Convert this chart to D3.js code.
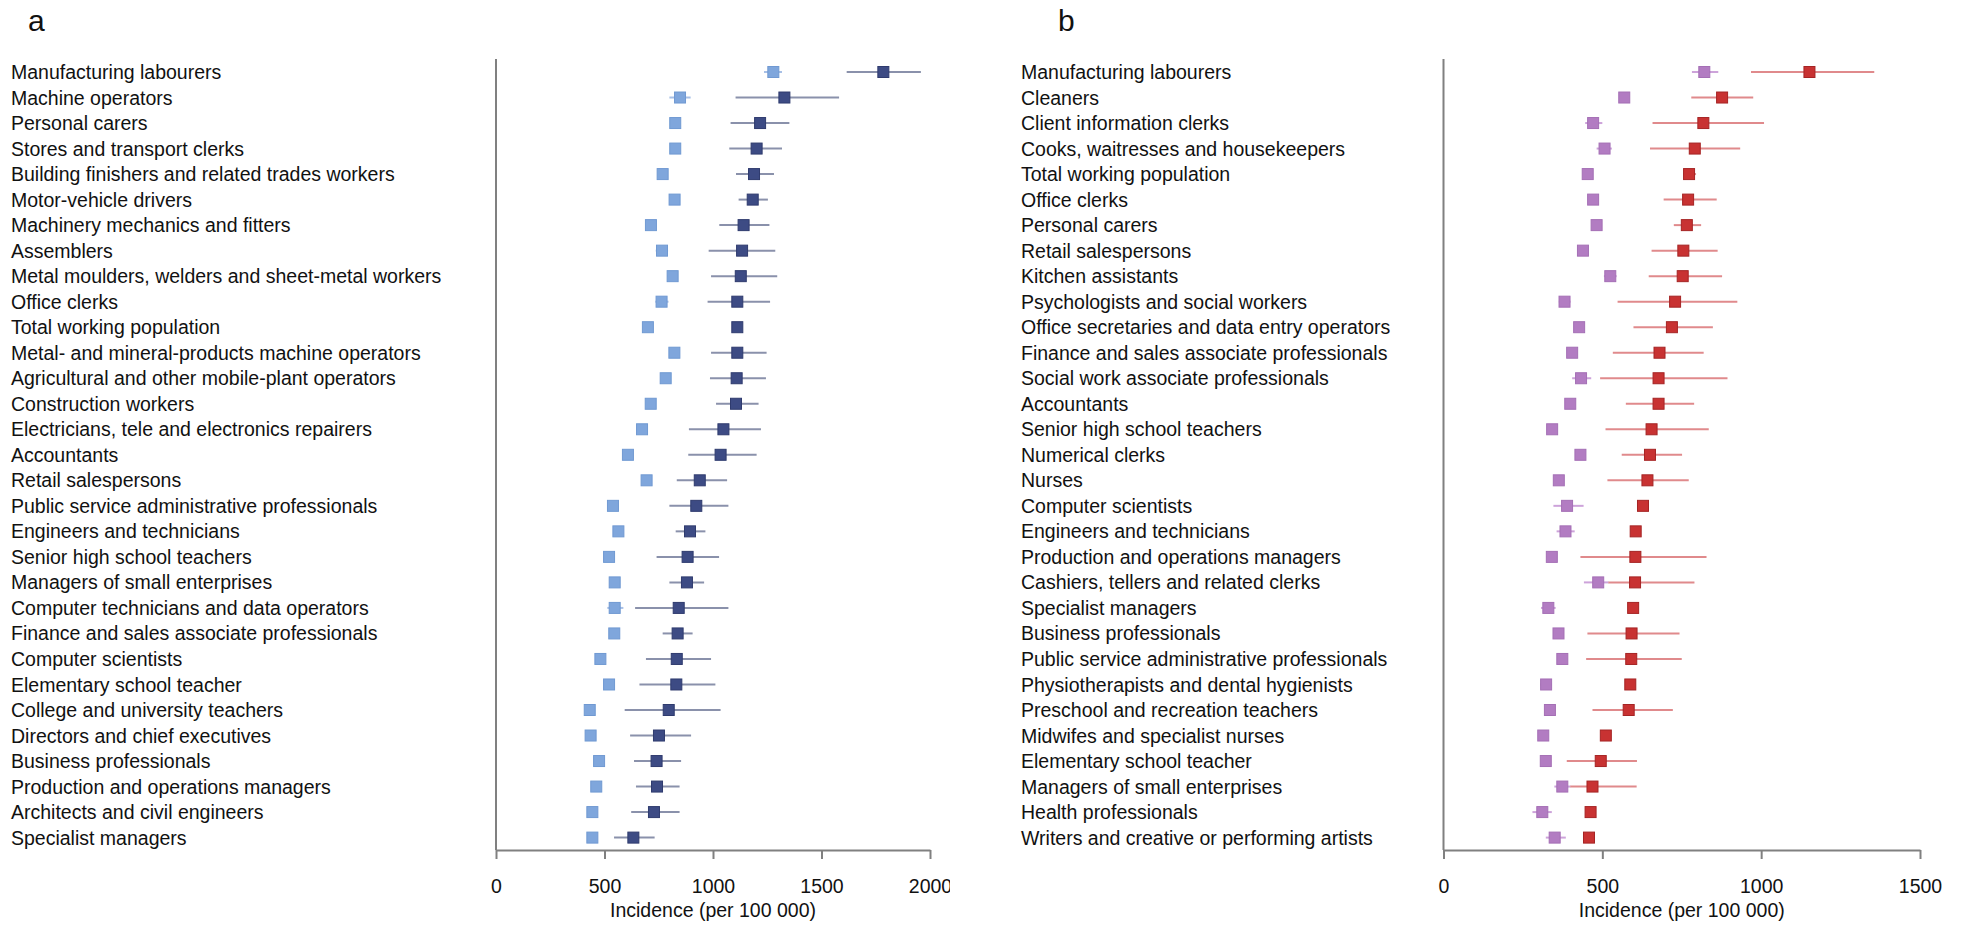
<!DOCTYPE html>
<html>
<head>
<meta charset="utf-8">
<script src="https://cdn.jsdelivr.net/npm/d3@7"></script>
<style>
  html, body { margin: 0; padding: 0; background: #fff; }
  svg { display: block; font-family: "Liberation Sans", Arial, sans-serif; }
</style>
</head>
<body>
<svg id="chart" width="1963" height="927"></svg>
<script>
// ---------- Panel a ----------
const catsA = ["Manufacturing labourers","Machine operators","Personal carers","Stores and transport clerks","Building finishers and related trades workers","Motor-vehicle drivers","Machinery mechanics and fitters","Assemblers","Metal moulders, welders and sheet-metal workers","Office clerks","Total working population","Metal- and mineral-products machine operators","Agricultural and other mobile-plant operators","Construction workers","Electricians, tele and electronics repairers","Accountants","Retail salespersons","Public service administrative professionals","Engineers and technicians","Senior high school teachers","Managers of small enterprises","Computer technicians and data operators","Finance and sales associate professionals","Computer scientists","Elementary school teacher","College and university teachers","Directors and chief executives","Business professionals","Production and operations managers","Architects and civil engineers","Specialist managers"];
const lightA   = [1278,848,826,826,768,823,714,765,814,763,700,822,782,713,673,608,694,539,564,521,547,547,545,481,521,432,436,475,462,444,444];
const lightALo = [1235,799,806,806,750,803,696,736,790,734,690,800,762,700,655,590,680,525,548,505,533,513,530,466,506,418,420,460,447,430,430];
const lightAHi = [1318,897,846,846,786,843,732,793,838,795,710,844,802,726,691,626,708,553,580,537,561,587,560,496,536,446,452,490,477,458,458];
const darkA    = [1785,1329,1217,1201,1189,1183,1141,1134,1128,1112,1112,1112,1109,1106,1048,1035,939,923,894,883,880,842,837,833,831,796,751,740,742,728,633];
const darkALo  = [1616,1104,1081,1075,1106,1118,1029,980,991,975,1095,991,986,1014,889,886,833,799,828,740,799,641,768,691,661,593,618,636,645,623,544];
const darkAHi  = [1958,1581,1352,1318,1281,1253,1260,1287,1296,1263,1130,1247,1244,1210,1221,1201,1065,1071,965,1028,959,1071,906,991,1011,1035,899,853,846,846,731];
const ticksA = [0,500,1000,1500,2000];

// ---------- Panel b ----------
const catsB = ["Manufacturing labourers","Cleaners","Client information clerks","Cooks, waitresses and housekeepers","Total working population","Office clerks","Personal carers","Retail salespersons","Kitchen assistants","Psychologists and social workers","Office secretaries and data entry operators","Finance and sales associate professionals","Social work associate professionals","Accountants","Senior high school teachers","Numerical clerks","Nurses","Computer scientists","Engineers and technicians","Production and operations managers","Cashiers, tellers and related clerks","Specialist managers","Business professionals","Public service administrative professionals","Physiotherapists and dental hygienists","Preschool and recreation teachers","Midwifes and specialist nurses","Elementary school teacher","Managers of small enterprises","Health professionals","Writers and creative or performing artists"];
const lightB   = [821,569,471,507,454,471,482,439,525,381,427,405,433,399,342,431,363,389,384,341,487,330,362,374,323,335,314,322,374,311,350];
const lightBLo = [782,555,446,482,445,458,468,425,505,363,412,392,405,385,328,416,350,346,356,325,442,307,348,358,305,320,300,308,349,280,322];
const lightBHi = [865,583,500,530,463,484,496,453,545,400,442,418,465,413,356,446,376,441,413,357,520,353,376,390,341,350,328,336,400,341,385];
const darkB    = [1152,877,818,791,773,770,766,755,753,729,719,680,677,677,655,650,642,628,605,604,603,597,592,591,588,583,511,495,469,463,458];
const darkBLo  = [968,780,658,650,755,693,725,655,646,548,598,533,493,574,510,561,516,615,593,431,519,585,453,449,578,469,501,388,399,455,450];
const darkBHi  = [1356,975,1009,934,795,860,811,863,877,925,848,819,894,789,835,751,772,641,617,828,790,609,743,750,598,722,521,609,608,471,466];
const ticksB = [0,500,1000,1500];

const svg = d3.select("#chart");
svg.append("rect").attr("width",1963).attr("height",927).attr("fill","#fff");

const defs = svg.append("defs");
defs.append("clipPath").attr("id","clipA").append("rect")
  .attr("x",0).attr("y",0).attr("width",950).attr("height",927);

const AX = "#808080";

function panel(opt) {
  const g = svg.append("g");
  if (opt.clip) g.attr("clip-path", "url(#" + opt.clip + ")");
  const x = d3.scaleLinear().domain(opt.domain).range(opt.xr);
  const y = d3.scalePoint().domain(opt.cats).range([72, 837.6]);
  const n = opt.cats.length;
  const idx = d3.range(n);

  // panel letter
  svg.append("text").attr("x", opt.letterX).attr("y", 31)
    .attr("font-size", 30).attr("fill", "#111").text(opt.letter);

  // category labels
  g.append("g").selectAll("text").data(opt.cats).join("text")
    .attr("x", opt.labelX).attr("y", d => y(d)).attr("dy", "0.36em")
    .attr("font-size", 19.5).attr("fill", "#111").text(d => d);

  // vertical axis
  g.append("line").attr("x1", opt.xr[0]).attr("x2", opt.xr[0])
    .attr("y1", 59).attr("y2", 850).attr("stroke", AX).attr("stroke-width", 2);

  // x axis
  const ax = g.append("g").attr("transform", "translate(0,850)")
    .call(d3.axisBottom(x).tickValues(opt.ticks).tickSize(9).tickSizeOuter(0).tickFormat(d3.format("d")));
  ax.select(".domain").attr("stroke", AX).attr("stroke-width", 2);
  ax.selectAll(".tick line").attr("stroke", AX).attr("stroke-width", 2);
  ax.selectAll(".tick text").attr("y", 43).attr("dy", 0)
    .attr("font-size", 19.5).attr("fill", "#111").attr("font-family", "Liberation Sans, Arial, sans-serif");

  g.append("text").attr("x", (opt.xr[0] + opt.xr[1]) / 2).attr("y", 917)
    .attr("text-anchor", "middle").attr("font-size", 19.5).attr("fill", "#111")
    .text("Incidence (per 100 000)");

  // CI lines
  const ci = g.append("g");
  ci.selectAll("line.l").data(idx).join("line").attr("class", "l")
    .attr("x1", i => x(opt.lLo[i])).attr("x2", i => x(opt.lHi[i]))
    .attr("y1", i => y(opt.cats[i])).attr("y2", i => y(opt.cats[i]))
    .attr("stroke", opt.lCI).attr("stroke-width", 2);
  ci.selectAll("line.d").data(idx).join("line").attr("class", "d")
    .attr("x1", i => x(opt.dLo[i])).attr("x2", i => x(opt.dHi[i]))
    .attr("y1", i => y(opt.cats[i])).attr("y2", i => y(opt.cats[i]))
    .attr("stroke", opt.dCI).attr("stroke-width", 2);

  const s = 11;
  g.append("g").selectAll("rect").data(idx).join("rect")
    .attr("x", i => x(opt.l[i]) - s / 2).attr("y", i => y(opt.cats[i]) - s / 2)
    .attr("width", s).attr("height", s)
    .attr("fill", opt.lFill).attr("stroke", opt.lStroke).attr("stroke-width", 1);
  g.append("g").selectAll("rect").data(idx).join("rect")
    .attr("x", i => x(opt.d[i]) - s / 2).attr("y", i => y(opt.cats[i]) - s / 2)
    .attr("width", s).attr("height", s)
    .attr("fill", opt.dFill).attr("stroke", opt.dStroke).attr("stroke-width", 1);
}

panel({
  cats: catsA, l: lightA, lLo: lightALo, lHi: lightAHi, d: darkA, dLo: darkALo, dHi: darkAHi,
  ticks: ticksA, domain: [0, 2000], xr: [496, 930], labelX: 11, letter: "a", letterX: 28, clip: "clipA",
  lFill: "#7fa6dc", lStroke: "#7099d2", lCI: "#a8c0e6",
  dFill: "#3d4b84", dStroke: "#2f3b6e", dCI: "#8a91ab"
});
panel({
  cats: catsB, l: lightB, lLo: lightBLo, lHi: lightBHi, d: darkB, dLo: darkBLo, dHi: darkBHi,
  ticks: ticksB, domain: [0, 1500], xr: [1443.5, 1920], labelX: 1021, letter: "b", letterX: 1058, clip: null,
  lFill: "#b27cc2", lStroke: "#a46fb5", lCI: "#cda3da",
  dFill: "#c83232", dStroke: "#a52424", dCI: "#e08a8c"
});
</script>
</body>
</html>
